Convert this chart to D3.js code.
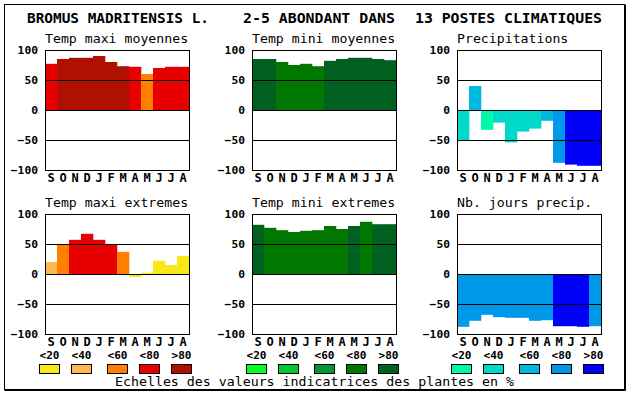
<!DOCTYPE html>
<html>
<head>
<meta charset="utf-8">
<script src="https://cdn.jsdelivr.net/npm/d3@7"></script>
<style>
  body { margin: 0; background: #fff; }
  text { font-family: "DejaVu Sans Mono", "Liberation Mono", monospace; }
</style>
</head>
<body>
<div id="chartdiv"></div>
<script>
/*global d3 */

var months = ["S", "O", "N", "D", "J", "F", "M", "A", "M", "J", "J", "A"],
    tickVals = [-100, -50, 0, 50, 100],
    scaleLabels = ["<20", "<40", "<60", "<80", ">80"],
    redPal = ["#f8e818", "#ffb850", "#ff8000", "#e80000", "#b01000"],
    greenPal = ["#00ff20", "#00c830", "#009830", "#007800", "#006020"],
    bluePal = ["#00f8a8", "#00d8c8", "#00b8e0", "#0098e8", "#0000f8"],
    //values, classes are indexes into the palettes
    tmaxMoyVals = [77, 85, 87, 87, 90, 80, 73, 72, 60, 70, 72, 72],
    tmaxMoyCls = [3, 4, 4, 4, 4, 4, 4, 3, 2, 3, 3, 3],
    tminMoyVals = [85, 85, 80, 75, 77, 73, 82, 85, 87, 87, 85, 83],
    tminMoyCls = [4, 4, 3, 3, 3, 3, 4, 4, 4, 4, 4, 4],
    precVals = [-50, 40, -33, -21, -54, -36, -31, -18, -88, -91, -93, -93],
    precCls = [1, 2, 0, 1, 1, 1, 1, 2, 3, 4, 4, 4],
    tmaxExtVals = [20, 50, 57, 67, 57, 50, 37, -5, 2, 22, 15, 30],
    tmaxExtCls = [1, 2, 3, 3, 3, 3, 2, 0, 0, 0, 0, 0],
    tminExtVals = [82, 77, 73, 70, 72, 73, 80, 75, 80, 87, 83, 83],
    tminExtCls = [4, 3, 3, 3, 3, 3, 3, 3, 4, 3, 4, 4],
    njoursVals = [-88, -78, -68, -72, -73, -73, -78, -77, -87, -87, -88, -87],
    njoursCls = [3, 3, 3, 3, 3, 3, 3, 3, 4, 4, 4, 3];

(function () {
    "use strict";

    var svg, pw = 144, ph = 120,
        legendOffs = [0, 32, 68, 100, 132];

    svg = d3.select("#chartdiv").append("svg")
        .attr("width", 630)
        .attr("height", 394);

    //outer frame, slightly heavier on right and bottom
    svg.append("rect")
        .attr("x", 4.5).attr("y", 4.5)
        .attr("width", 620).attr("height", 385)
        .attr("fill", "none").attr("stroke", "#000");
    svg.append("path")
        .attr("d", "M625.5,4.5V390.5H4.5")
        .attr("fill", "none").attr("stroke", "#000");

    function titlePiece (txt, x, len) {
        svg.append("text")
            .attr("x", x).attr("y", 23)
            .attr("font-size", 14).attr("font-weight", "bold")
            .attr("textLength", len).attr("lengthAdjust", "spacingAndGlyphs")
            .text(txt);
    }

    function boldLabels (sel, size, cw) {
        sel.attr("font-size", size).attr("font-weight", "bold")
            .attr("font-family", "'DejaVu Sans Mono', monospace")
            .attr("fill", "#000");
        if(cw) {
            sel.attr("textLength", function () {
                return this.textContent.length * cw; })
                .attr("lengthAdjust", "spacingAndGlyphs"); }
    }

    function drawPanel (px, py, title, vals, cls, pal) {
        var g, x, y;
        x = d3.scaleBand().domain(d3.range(12)).range([0, pw]);
        y = d3.scaleLinear().domain([-100, 100]).range([ph, 0]);
        g = svg.append("g").attr("transform", "translate(" + px + "," + py + ")");
        g.append("text")
            .attr("x", 0).attr("y", -7)
            .attr("font-size", 13)
            .attr("textLength", title.length * 7.95)
            .attr("lengthAdjust", "spacingAndGlyphs")
            .text(title);
        g.selectAll("rect.bar").data(vals).enter().append("rect")
            .attr("class", "bar")
            .attr("x", function (ignore, i) { return x(i); })
            .attr("width", x.bandwidth() + 0.3)
            .attr("y", function (d) { return y(Math.max(0, d)); })
            .attr("height", function (d) { return Math.abs(y(d) - y(0)); })
            .attr("fill", function (ignore, i) { return pal[cls[i]]; });
        g.selectAll("line.grid").data([50, 0, -50]).enter().append("line")
            .attr("class", "grid")
            .attr("x1", 0).attr("x2", pw)
            .attr("y1", function (d) { return Math.round(y(d)) + 0.5; })
            .attr("y2", function (d) { return Math.round(y(d)) + 0.5; })
            .attr("stroke", "#000");
        g.append("rect")
            .attr("x", 0.5).attr("y", 0.5)
            .attr("width", pw).attr("height", ph)
            .attr("fill", "none").attr("stroke", "#000");
        g.append("g")
            .call(d3.axisLeft(y).tickValues(tickVals).tickSize(0).tickPadding(7))
            .call(function (a) { a.select(".domain").remove(); })
            .selectAll("text")
            .call(boldLabels, 11, 6.8);
        g.append("g")
            .attr("transform", "translate(0," + ph + ")")
            .call(d3.axisBottom(x).tickSize(0).tickPadding(3)
                .tickFormat(function (i) { return months[i]; }))
            .call(function (a) { a.select(".domain").remove(); })
            .selectAll("text")
            .call(boldLabels, 12, 0);
    }

    function drawLegend (px, pal) {
        var g = svg.append("g").attr("transform", "translate(" + (px - 6) + ",0)");
        g.selectAll("rect").data(pal).enter().append("rect")
            .attr("x", function (ignore, i) { return legendOffs[i] + 0.5; })
            .attr("y", 364.5)
            .attr("width", 20).attr("height", 9)
            .attr("fill", function (d) { return d; })
            .attr("stroke", "#000");
        g.selectAll("text").data(scaleLabels).enter().append("text")
            .attr("x", function (ignore, i) { return legendOffs[i] + 10.5; })
            .attr("y", 358.5)
            .attr("text-anchor", "middle")
            .attr("font-size", 11).attr("font-weight", "bold")
            .attr("textLength", 20).attr("lengthAdjust", "spacingAndGlyphs")
            .text(function (d) { return d; });
    }

    titlePiece("BROMUS MADRITENSIS L.", 27, 182);
    titlePiece("2-5 ABONDANT DANS", 243, 152);
    titlePiece("13 POSTES CLIMATIQUES", 415, 187);

    drawPanel(45, 50, "Temp maxi moyennes", tmaxMoyVals, tmaxMoyCls, redPal);
    drawPanel(252, 50, "Temp mini moyennes", tminMoyVals, tminMoyCls, greenPal);
    drawPanel(457, 50, "Precipitations", precVals, precCls, bluePal);
    drawPanel(45, 214, "Temp maxi extremes", tmaxExtVals, tmaxExtCls, redPal);
    drawPanel(252, 214, "Temp mini extremes", tminExtVals, tminExtCls, greenPal);
    drawPanel(457, 214, "Nb. jours precip.", njoursVals, njoursCls, bluePal);

    drawLegend(45, redPal);
    drawLegend(252, greenPal);
    drawLegend(457, bluePal);

    svg.append("text")
        .attr("x", 115).attr("y", 386)
        .attr("font-size", 13)
        .attr("textLength", 399).attr("lengthAdjust", "spacingAndGlyphs")
        .text("Echelles des valeurs indicatrices des plantes en %");
}());
</script>
</body>
</html>
